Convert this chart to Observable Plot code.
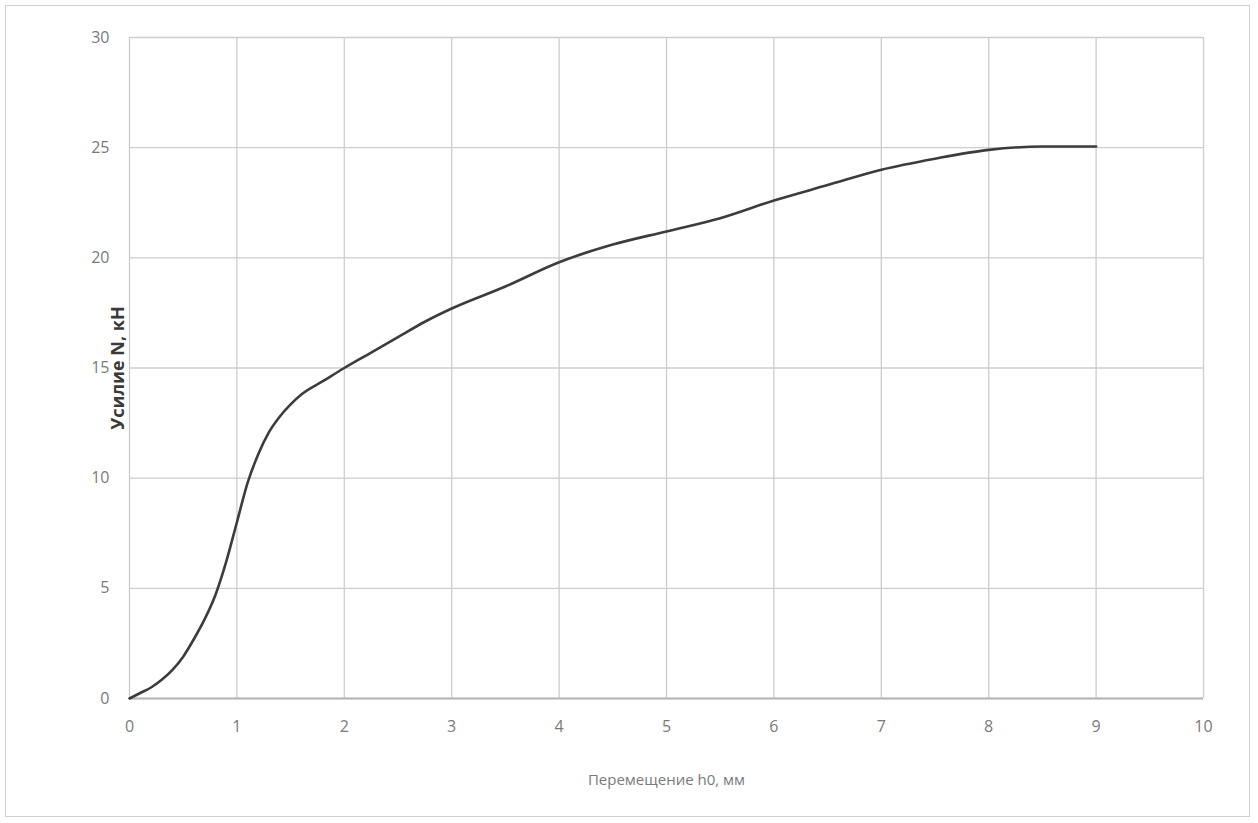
<!DOCTYPE html>
<html>
<head>
<meta charset="utf-8">
<script src="https://cdn.jsdelivr.net/npm/d3@7"></script>
<script src="https://cdn.jsdelivr.net/npm/@observablehq/plot@0.6"></script>
<style>
  html, body { margin: 0; padding: 0; background: #fff; }
  #wrap { position: relative; width: 1258px; height: 823px; overflow: hidden; }
  #border { position: absolute; left: 5px; top: 5px; width: 1243px; height: 810px; border: 1px solid #cfcfcf; pointer-events: none; }
</style>
</head>
<body>
<div id="wrap"><div id="border"></div></div>
<script>
const displacement = [0, 0.1, 0.2, 0.3, 0.4, 0.5, 0.6, 0.7, 0.8, 0.9, 1.0, 1.1, 1.2, 1.3, 1.4, 1.5, 1.6, 1.8, 2.0, 2.25, 2.5, 2.75, 3.0, 3.5, 4.0, 4.5, 5.0, 5.5, 6.0, 6.5, 7.0, 7.5, 8.0, 8.5, 9.0];
const force = [0, 0.25, 0.5, 0.85, 1.3, 1.9, 2.7, 3.6, 4.7, 6.2, 8.0, 9.8, 11.1, 12.1, 12.8, 13.35, 13.8, 14.4, 15.0, 15.7, 16.4, 17.1, 17.7, 18.7, 19.8, 20.6, 21.2, 21.8, 22.6, 23.3, 24.0, 24.5, 24.9, 25.05, 25.05];
const xTicks = [0, 1, 2, 3, 4, 5, 6, 7, 8, 9, 10];
const yTicks = [0, 5, 10, 15, 20, 25, 30];
const xLabel = "Перемещение h0, мм";
const yLabel = "Усилие N, кН";

const data = displacement.map((d, i) => ({x: d, y: force[i]}));

const chart = Plot.plot({
  width: 1258,
  height: 823,
  marginLeft: 129,
  marginRight: 55,
  marginTop: 37,
  marginBottom: 125,
  style: {fontFamily: "'Open Sans', sans-serif", fontSize: "15px", background: "transparent"},
  x: {domain: [0, 10]},
  y: {domain: [0, 30]},
  marks: [
    Plot.gridX(xTicks, {stroke: "#cdcdcd", strokeOpacity: 1, strokeWidth: 1.3}),
    Plot.gridY(yTicks, {stroke: "#cdcdcd", strokeOpacity: 1, strokeWidth: 1.3}),
    Plot.ruleY([0], {stroke: "#b5b5b5", strokeWidth: 2}),
    Plot.axisX(xTicks, {tickSize: 0, tickPadding: 22, label: null, fill: "#7a7a7a", fontSize: 16}),
    Plot.axisY(yTicks, {tickSize: 0, tickPadding: 20, label: null, fill: "#7a7a7a", fontSize: 16}),
    Plot.text([xLabel], {frameAnchor: "bottom", dy: 86, fill: "#7a7a7a", fontSize: 15}),
    Plot.text([yLabel], {frameAnchor: "left", textAnchor: "middle", rotate: -90, dx: -11, fill: "#3a3a3a", fontSize: 18, fontWeight: "bold"}),
    Plot.line(data, {x: "x", y: "y", curve: "monotone-x", stroke: "#3c3c3c", strokeWidth: 2.6})
  ]
});
document.getElementById("wrap").prepend(chart);
</script>
</body>
</html>
